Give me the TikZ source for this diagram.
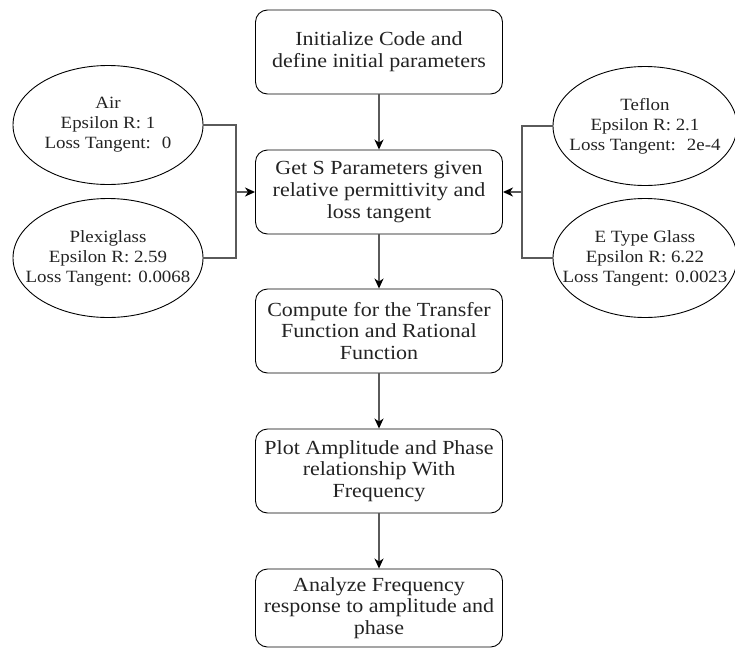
\documentclass[tikz,border=0pt]{standalone}
\usepackage{fontspec}
\setmainfont{Liberation Serif}[FakeStretch=1.1]
\usetikzlibrary{positioning, shapes.geometric, arrows.meta}

\begin{document}
\begin{tikzpicture}[x=1pt, y=-1pt]

% Define colors
\definecolor{linkgray}{RGB}{90, 90, 90}
\definecolor{textgray}{RGB}{35, 35, 35}

% Styles
\tikzset{
  stepbox/.style={draw, line width=0.9pt, rounded corners=12pt, minimum width=247pt, minimum height=84pt,
    align=center, inner sep=2pt, text=textgray, font=\fontsize{20}{21.7}\selectfont},
  material/.style={draw, line width=0.9pt, ellipse, minimum width=190pt, minimum height=119pt,
    align=center, inner xsep=-25pt, inner ysep=0pt, text=textgray, font=\fontsize{17.2}{20}\selectfont},
  link/.style={linkgray, line width=1.6pt},
  flow/.style={link, -{Stealth[length=10pt, width=9pt, inset=3pt, color=black]}}
}

\useasboundingbox (0, 0) rectangle (735, 648);

% Draw the steps
\node[stepbox] (init) at (379, 52) {Initialize Code and\\define initial parameters};
\node[stepbox] (sparams) at (379, 192) {Get S Parameters given\\relative permittivity and\\loss tangent};
\node[stepbox] (transfer) at (379, 331) {Compute for the Transfer\\Function and Rational\\Function};
\node[stepbox] (plotamp) at (379, 471) {Plot Amplitude and Phase\\relationship With\\Frequency};
\node[stepbox, minimum height=78pt] (analyze) at (379, 608) {Analyze Frequency\\response to amplitude and\\phase};

% Draw the materials
\node[material] (air) at (108, 125) {Air\\Epsilon R: 1\\Loss Tangent:~ 0};
\node[material] (plexi) at (108, 258) {Plexiglass\\Epsilon R: 2.59\\Loss Tangent: 0.0068};
\node[material, minimum width=184pt] (teflon) at (645, 126) {Teflon\\Epsilon R: 2.1\\Loss Tangent:~ 2e-4};
\node[material, minimum width=184pt] (eglass) at (645, 258) {E Type Glass\\Epsilon R: 6.22\\Loss Tangent: 0.0023};

% Junction points
\coordinate (leftjoin) at (236, 192);
\coordinate (rightjoin) at (522, 192);

% Draw the connectors
\draw[link] (air.east) -| (leftjoin);
\draw[link] (plexi.east) -| (leftjoin);
\draw[flow] (leftjoin) -- (sparams.west);
\draw[link] (teflon.west) -| (rightjoin);
\draw[link] (eglass.west) -| (rightjoin);
\draw[flow] (rightjoin) -- (sparams.east);

\draw[flow] (init) -- (sparams);
\draw[flow] (sparams) -- (transfer);
\draw[flow] (transfer) -- (plotamp);
\draw[flow] (plotamp) -- (analyze);

\end{tikzpicture}
\end{document}
